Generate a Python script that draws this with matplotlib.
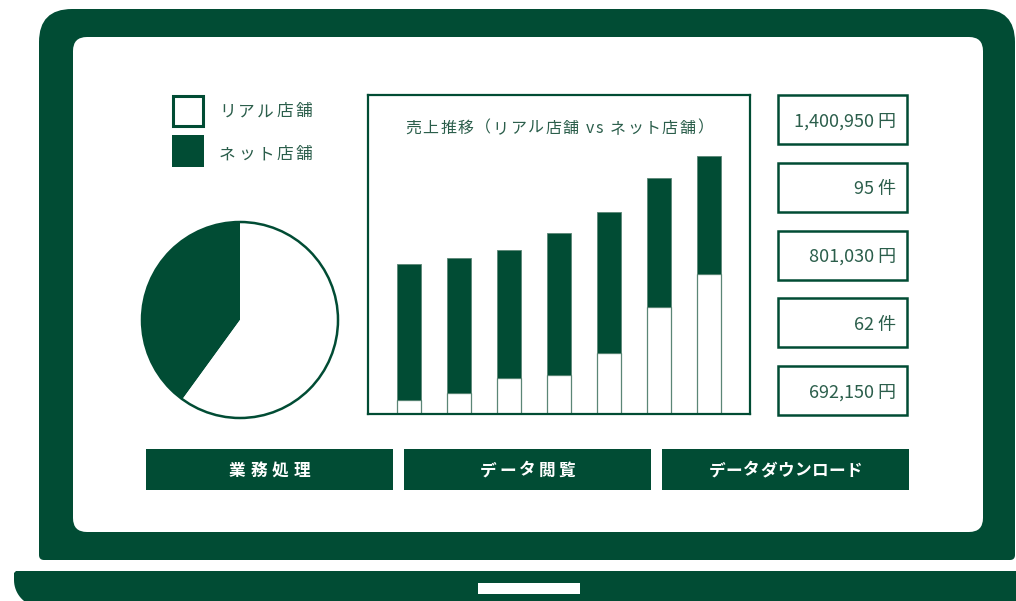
import matplotlib
matplotlib.use("Agg")
import matplotlib.pyplot as plt
from matplotlib.patches import FancyBboxPatch, Rectangle, Circle, Polygon
import numpy as np

plt.rcParams["font.family"] = ["Noto Sans CJK JP", "DejaVu Sans"]

# data
legend_labels = ["リアル店舗", "ネット店舗"]
real_sales = [14, 21, 36, 39, 61, 107, 140]
net_sales = [136, 135, 128, 142, 141, 129, 118]
pie_labels = ["ネット店舗", "リアル店舗"]
pie_share = [40, 60]
chart_title = "売上推移（リアル店舗 vs ネット店舗）"
kpi_values = ["1,400,950 円", "95 件", "801,030 円", "62 件", "692,150 円"]
buttons = ["業務処理", "データ閲覧", "データダウンロード"]

DARK = "#014c34"
TEXT = "#2b5e4b"
EDGE = "#5b8676"
W, H = 1016, 601


def fig_rect(x0, y0, x1, y1):
    # pixel box (top-left origin) -> figure fraction rect
    return [x0 / W, 1 - y1 / H, (x1 - x0) / W, (y1 - y0) / H]


def spaced_text(ax, x, y, s, spacing=0.0, ha="left", size=12, **kw):
    # no letter-spacing in matplotlib, so place the glyphs one by one
    renderer = ax.figure.canvas.get_renderer()
    widths = []
    for ch in s:
        t = ax.text(0, 0, ch, size=size, **kw)
        widths.append(t.get_window_extent(renderer).width)
        t.remove()
    total = sum(widths) + spacing * (len(s) - 1)
    if ha == "center":
        x -= total / 2
    elif ha == "right":
        x -= total
    base = y + 0.37 * size * 100 / 72
    for ch, w in zip(s, widths):
        ax.text(x, base, ch, size=size, ha="left", va="baseline", **kw)
        x += w + spacing


fig = plt.figure(figsize=(W / 100, H / 100), dpi=100)
bg = fig.add_axes([0, 0, 1, 1])
bg.set_xlim(0, W)
bg.set_ylim(H, 0)
bg.axis("off")

# laptop body
bg.add_patch(FancyBboxPatch((39, 9), 976, 530, boxstyle="round,pad=0,rounding_size=33", fc=DARK, ec="none"))
bg.add_patch(FancyBboxPatch((39, 40), 976, 520, boxstyle="round,pad=0,rounding_size=5", fc=DARK, ec="none"))
bg.add_patch(FancyBboxPatch((73, 37), 910, 495, boxstyle="round,pad=0,rounding_size=14", fc="white", ec="none"))

# base: square top corner, rounded bottom-left corner
t = np.linspace(np.pi, np.pi / 2, 20)
arc = np.column_stack([41 + 27 * np.cos(t), 580 + 27 * np.sin(t)])
base_pts = np.vstack([[[1100, 571], [16, 571], [14, 573]], arc, [[1100, 607]]])
bg.add_patch(Polygon(base_pts, closed=True, fc=DARK, ec="none"))
bg.add_patch(Rectangle((478, 583), 102, 11, fc="white", ec="none"))

# legend
bg.add_patch(Rectangle((173, 96), 30, 30, fc="white", ec=DARK, lw=2.2))
bg.add_patch(Rectangle((172, 135), 32, 32, fc=DARK, ec="none"))
spaced_text(bg, 219, 110, legend_labels[0], spacing=2.5, size=12, color=TEXT)
spaced_text(bg, 219, 153, legend_labels[1], spacing=2.5, size=12, color=TEXT)

# pie
ax_pie = fig.add_axes(fig_rect(140, 220, 340, 420))
ax_pie.pie(pie_share, colors=[DARK, "white"], startangle=90, radius=0.98,
           wedgeprops=dict(linewidth=0))
ax_pie.add_patch(Circle((0, 0), 0.98, fill=False, ec=DARK, lw=1.8))
ax_pie.set_xlim(-1, 1)
ax_pie.set_ylim(-1, 1)
ax_pie.set_aspect("equal")
ax_pie.axis("off")
ax_pie.patch.set_visible(False)

# stacked bars
ax = fig.add_axes(fig_rect(368, 95, 750, 414))
x = np.arange(len(real_sales))
ax.bar(x, real_sales, width=0.48, color="white", edgecolor=EDGE, linewidth=0.9)
ax.bar(x, net_sales, width=0.48, bottom=real_sales, color=DARK, edgecolor=EDGE, linewidth=0.6)
ax.set_xlim(-0.82, 6.82)
ax.set_ylim(0, 319)
ax.set_xticks([])
ax.set_yticks([])
for sp in ax.spines.values():
    sp.set_color(DARK)
    sp.set_linewidth(1.6)
ax.patch.set_visible(False)
spaced_text(bg, 559, 127, chart_title, spacing=1.5, ha="center", size=11.5, color=TEXT)

# KPI boxes
for i, val in enumerate(kpi_values):
    top = 95 + i * 67.8
    bg.add_patch(Rectangle((778, top), 129, 49, fc="white", ec=DARK, lw=1.8))
    bg.text(896, top + 24.5 + 0.37 * 13 * 100 / 72, val, size=13, color=TEXT,
            ha="right", va="baseline")

# buttons
btn_spacing = [5, 3, 0.5]
for i, label in enumerate(buttons):
    x0 = 146 + i * 258
    bg.add_patch(Rectangle((x0, 449), 247, 41, fc=DARK, ec="none"))
    spaced_text(bg, x0 + 123.5, 469.5, label, spacing=btn_spacing[i], ha="center",
                size=12, color="white", fontweight="bold")

fig.savefig("out.png", dpi=100)
